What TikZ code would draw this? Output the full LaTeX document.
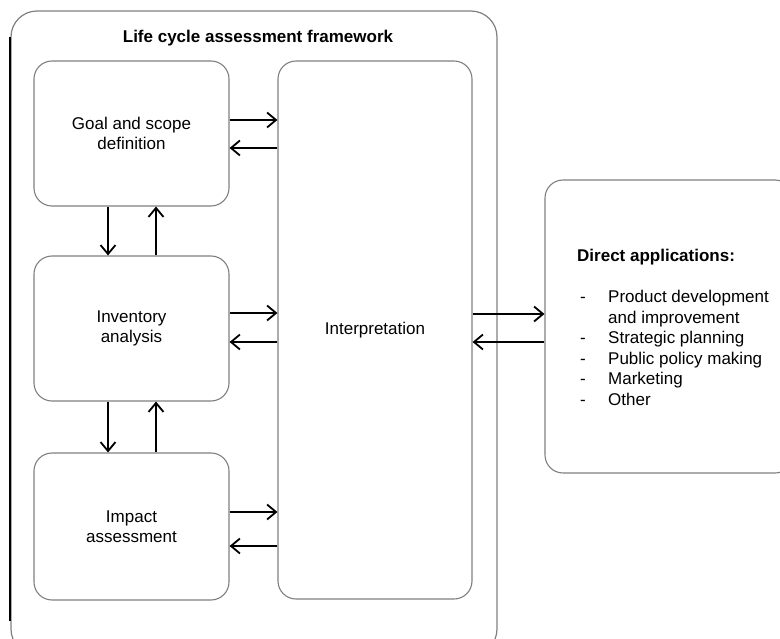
\documentclass[tikz,border=0pt]{standalone}
\usepackage{fontspec}
\setmainfont{Liberation Sans}
\usetikzlibrary{arrows.meta}
\begin{document}
\begin{tikzpicture}[x=1pt,y=-1pt,
  box/.style={draw=black!50, line width=1.1pt, rounded corners=18pt, align=center,
    font=\fontsize{17}{20.5}\selectfont, inner sep=0pt},
  arr/.style={draw=black, line width=1.8pt, -{Straight Barb[length=9pt,width=15pt,line width=1.8pt]}},
  lbl/.style={font=\fontsize{17}{20.5}\selectfont, inner sep=0pt}]
\useasboundingbox (0,0) rectangle (780,639);
\fill[white] (0,0) rectangle (780,639);
\begin{scope}
\clip (0,0) rectangle (780,639);
% outer frame
\draw[draw=black!50, line width=1.2pt, rounded corners=26pt] (11,11) rectangle (497,655);
\draw[black, line width=1.8pt] (10,37) -- (10,621);
\node[box, minimum width=248pt, minimum height=293pt] (direct) at (669,326.5) {};
\end{scope}
\node[lbl, font=\fontsize{17}{20.5}\selectfont\bfseries] (title) at (258,38) {Life cycle assessment framework};
\node[box, minimum width=195pt, minimum height=145pt] (goal) at (131.5,133.5) {Goal and scope\\definition};
\node[box, minimum width=195pt, minimum height=145pt] (inv) at (131.5,328.5) {Inventory\\analysis};
\node[box, minimum width=195pt, minimum height=147pt] (imp) at (131.5,526.5) {Impact\\assessment};
\node[box, minimum width=194pt, minimum height=538pt] (interp) at (375,330) {Interpretation};
\node[lbl, anchor=base west, align=left] (apps) at (577,262) {%
  \begin{tabular}[t]{@{}p{31pt}@{}l@{}}
  \multicolumn{2}{@{}l@{}}{\bfseries Direct applications:}\\
  \\
  \,- & Product development\\
     & and improvement\\
  \,- & Strategic planning\\
  \,- & Public policy making\\
  \,- & Marketing\\
  \,- & Other
  \end{tabular}};
% arrows goal <-> interp
\draw[arr] (goal.east |- 0,120) -- (interp.west |- 0,120);
\draw[arr] (interp.west |- 0,148) -- (goal.east |- 0,148);
\draw[arr] (inv.east |- 0,313) -- (interp.west |- 0,313);
\draw[arr] (interp.west |- 0,342) -- (inv.east |- 0,342);
\draw[arr] (imp.east |- 0,512) -- (interp.west |- 0,512);
\draw[arr] (interp.west |- 0,546) -- (imp.east |- 0,546);
% vertical arrows
\draw[arr] (goal.south -| 108,0) -- (inv.north -| 108,0);
\draw[arr] (inv.north -| 156,0) -- (goal.south -| 156,0);
\draw[arr] (inv.south -| 108,0) -- (imp.north -| 108,0);
\draw[arr] (imp.north -| 156,0) -- (inv.south -| 156,0);
% interp <-> direct
\draw[arr] (interp.east |- 0,314) -- (direct.west |- 0,314);
\draw[arr] (direct.west |- 0,342) -- (interp.east |- 0,342);
\end{tikzpicture}
\end{document}
